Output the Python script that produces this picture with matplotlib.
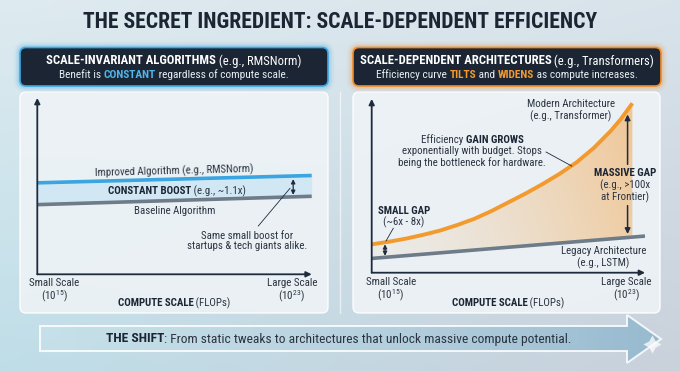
import numpy as np
import matplotlib.pyplot as plt
import matplotlib.font_manager as fm
from matplotlib.patches import FancyBboxPatch, Polygon

# values (x = log10 of FLOPs, y = efficiency, arbitrary units)
scale_x = [15, 23]
baseline_y = [3.99, 4.47]
improved_y = [5.24, 5.66]
legacy_x = [15, 23]
legacy_y = [0.83, 2.13]
modern_x = [15, 15.5, 16, 16.5, 17, 17.5, 18, 18.5, 19, 19.5, 20, 20.5, 21, 21.5, 22, 22.3, 22.63]
modern_y = [1.65, 1.8, 1.98, 2.2, 2.45, 2.77, 3.13, 3.58, 4.09, 4.6, 5.15, 5.75, 6.42, 7.25, 8.25, 8.95, 9.85]
tick_pos_left = [15.5, 22.42]
tick_pos_right = [15.56, 22.46]
tick_labels = ['Small Scale\n$\\mathregular{(10^{15})}$', 'Large Scale\n$\\mathregular{(10^{23})}$']

# pick a narrow face if there is one
names = set(f.name for f in fm.fontManager.ttflist)
FONT = 'Roboto'
for cand in ['Roboto Condensed', 'Liberation Sans Narrow', 'Open Sans Condensed']:
    if cand in names:
        FONT = cand
        break
plt.rcParams['font.family'] = [FONT, 'DejaVu Sans']

NAVY = '#1b2533'
TXT = '#2b3440'
AXC = '#1d2b3c'
BLUE = '#3aa5e0'
GREY = '#6e7b88'
ORANGE = '#f39a2e'
LBL = 7.8

fig = plt.figure(figsize=(6.8, 3.71), dpi=100)
bg = fig.add_axes([0, 0, 1, 1])
fg = fig.add_axes([0, 0, 1, 1])
fg.set_zorder(10)
fg.patch.set_visible(False)
fg.set_xlim(0, 680)
fg.set_ylim(371, 0)
fg.axis('off')

# background gradient
yy, xx = np.mgrid[0:1:60j, 0:1:100j]
tl = np.array([0.87, 0.92, 0.94])
tr = np.array([0.85, 0.89, 0.92])
bl = np.array([0.75, 0.87, 0.91])
br = np.array([0.79, 0.82, 0.86])
img = (tl * ((1 - xx) * (1 - yy))[..., None] + tr * (xx * (1 - yy))[..., None]
       + bl * ((1 - xx) * yy)[..., None] + br * (xx * yy)[..., None])
bg.imshow(img, extent=[0, 680, 371, 0], aspect='auto', zorder=0, interpolation='bicubic')
bg.set_xlim(0, 680)
bg.set_ylim(371, 0)
bg.axis('off')

renderer = fig.canvas.get_renderer()


def rich(x, y, parts, size):
    objs = []
    for s, w, c in parts:
        objs.append(fg.text(0, y, s, fontsize=size, fontweight=w, color=c,
                            ha='left', va='center'))
    widths = [t.get_window_extent(renderer).width for t in objs]
    start = x - sum(widths) / 2
    for t, w in zip(objs, widths):
        t.set_x(start)
        start += w


def label(x, y, s, **kw):
    kw.setdefault('fontsize', LBL)
    kw.setdefault('color', TXT)
    fg.text(x, y, s, ha='center', va='center', linespacing=1.1, **kw)


def box(x0, y0, x1, y1, **kw):
    p = FancyBboxPatch((x0, y0), x1 - x0, y1 - y0,
                       boxstyle='round,pad=0,rounding_size=6', **kw)
    bg.add_patch(p)
    return p


# title
fg.text(340, 21.5, 'THE SECRET INGREDIENT: SCALE-DEPENDENT EFFICIENCY', fontsize=15.6,
        fontweight='bold', color=NAVY, ha='center', va='center')

# header boxes with glow
for (x0, x1, glow) in [(20, 328, '#3aa7e3'), (353, 661, '#f08c28')]:
    for lw, a in [(9, 0.06), (6, 0.1), (3.5, 0.18)]:
        box(x0, 47.5, x1, 86, facecolor='none', edgecolor=glow, lw=lw, alpha=a, zorder=2)
    box(x0, 47.5, x1, 86, facecolor=NAVY, edgecolor=glow, lw=1.2, zorder=3)

rich(173.5, 61, [('SCALE-INVARIANT ALGORITHMS', 'bold', 'white'),
                 (' (e.g., RMSNorm)', 'normal', 'white')], 9.1)
rich(173.5, 74.5, [('Benefit is ', 'normal', '#e8eef3'), ('CONSTANT', 'bold', '#4fb6ec'),
                   (' regardless of compute scale.', 'normal', '#e8eef3')], 8.2)
rich(507, 61, [('SCALE-DEPENDENT ARCHITECTURES', 'bold', 'white'),
               (' (e.g., Transformers)', 'normal', 'white')], 9.1)
rich(507, 74.5, [('Efficiency curve ', 'normal', '#e8eef3'), ('TILTS', 'bold', ORANGE),
                 (' and ', 'normal', '#e8eef3'), ('WIDENS', 'bold', ORANGE),
                 (' as compute increases.', 'normal', '#e8eef3')], 8.2)

# chart panels
box(20, 92, 328, 313, facecolor='#eef3f6', edgecolor='white', lw=1, alpha=0.9, zorder=1)
box(353, 92, 660, 313, facecolor='#eef3f6', edgecolor='white', lw=1, alpha=0.9, zorder=1)
bg.plot([340, 340], [92, 313], color='white', lw=1, alpha=0.6, zorder=1)


def px_axes(x0, x1, y_top, y_bot):
    return fig.add_axes([x0 / 680, 1 - y_bot / 371, (x1 - x0) / 680, (y_bot - y_top) / 371])


def style(ax, ticks):
    ax.patch.set_alpha(0)
    for s in ax.spines.values():
        s.set_visible(False)
    ax.set_xlim(15, 23)
    ax.set_ylim(0, 10.1)
    ax.set_yticks([])
    ax.set_xticks(ticks, tick_labels)
    ax.tick_params(axis='x', length=0, pad=3, labelsize=7.9, labelcolor=TXT)
    for lab in ax.get_xticklabels():
        lab.set_linespacing(1.0)
    arr = dict(arrowstyle='-|>', color=AXC, lw=1.3, mutation_scale=8, shrinkA=0, shrinkB=0)
    ax.annotate('', xy=(1, 0), xytext=(0, 0), xycoords='axes fraction', arrowprops=arr, zorder=5)
    ax.annotate('', xy=(0, 1), xytext=(0, 0), xycoords='axes fraction', arrowprops=arr, zorder=5)


# left chart
axL = px_axes(37.3, 311.7, 98, 274.3)
axL.fill_between(scale_x, baseline_y, improved_y, color='#cfe7f5', alpha=0.9, lw=0, zorder=1)
axL.plot(scale_x, improved_y, color=BLUE, lw=2.6, solid_capstyle='butt', zorder=3)
axL.plot(scale_x, baseline_y, color=GREY, lw=2.6, solid_capstyle='butt', zorder=3)
axL.annotate('', xy=(22.46, 5.45), xytext=(22.46, 4.55),
             arrowprops=dict(arrowstyle='<|-|>', color=AXC, lw=0.9, mutation_scale=6,
                             shrinkA=0, shrinkB=0))
style(axL, tick_pos_left)

# right chart
axR = px_axes(371.7, 645, 99, 272.7)
leg_end = np.interp(modern_x[-1], legacy_x, legacy_y)
verts = list(zip(modern_x, modern_y)) + [(modern_x[-1], leg_end), (legacy_x[0], legacy_y[0])]
poly = Polygon(verts, closed=True, facecolor='none', edgecolor='none', transform=axR.transData)
axR.add_patch(poly)
gy, gx = np.mgrid[0:1:50j, 0:1:100j]
shade = np.zeros((50, 100, 4))
shade[..., 0] = 0.96
shade[..., 1] = 0.66
shade[..., 2] = 0.32
shade[..., 3] = 0.06 + 0.42 * gx ** 1.5 + 0.12 * (1 - gy)
fill_im = axR.imshow(shade, extent=[15, 23, 0, 10.1], aspect='auto', zorder=1,
                     interpolation='bilinear')
fill_im.set_clip_path(poly)
axR.plot(legacy_x, legacy_y, color=GREY, lw=2.6, solid_capstyle='butt', zorder=3)
axR.plot(modern_x, modern_y, color=ORANGE, lw=2.8, solid_capstyle='butt',
         solid_joinstyle='round', zorder=4)
small_arr = dict(arrowstyle='<|-|>', color=AXC, lw=0.9, mutation_scale=6, shrinkA=0, shrinkB=0)
axR.annotate('', xy=(15.39, 1.65), xytext=(15.39, 0.98), arrowprops=small_arr)
big = dict(arrowstyle='-|>', color=AXC, lw=1.1, mutation_scale=8, shrinkA=0, shrinkB=0)
axR.annotate('', xy=(22.49, 9.2), xytext=(22.49, 6.3), arrowprops=big)
axR.annotate('', xy=(22.49, 2.25), xytext=(22.49, 3.9), arrowprops=big)
style(axR, tick_pos_right)

# chart labels
fg.text(174.5, 171.5, 'Improved Algorithm (e.g., RMSNorm)', fontsize=LBL, color=TXT,
        ha='center', va='center', rotation=1.5)
rich(177, 191, [('CONSTANT BOOST', 'bold', NAVY), (' (e.g., ~1.1x)', 'normal', TXT)], LBL)
label(175, 211, 'Baseline Algorithm')
fg.plot([290, 258.3], [188.3, 226], color=AXC, lw=0.6)
label(246.7, 241, 'Same small boost for\nstartups & tech giants alike.')
rich(174, 303.3, [('COMPUTE SCALE', 'bold', NAVY), (' (FLOPs)', 'normal', TXT)], LBL)
rich(508, 303.3, [('COMPUTE SCALE', 'bold', NAVY), (' (FLOPs)', 'normal', TXT)], LBL)

label(571, 110.5, 'Modern Architecture\n(e.g., Transformer)')
rich(472, 140, [('Efficiency ', 'normal', TXT), ('GAIN GROWS', 'bold', NAVY)], LBL)
label(472, 157, 'exponentially with budget. Stops\nbeing the bottleneck for hardware.')
fg.plot([546, 571.7], [152, 166], color=AXC, lw=0.6)
label(625, 172.7, 'MASSIVE GAP', fontweight='bold', color=NAVY)
label(625, 191, '(e.g., >100x\nat Frontier)')
label(404.5, 210.7, 'SMALL GAP', fontweight='bold', color=NAVY)
label(404, 222.3, '(~6x - 8x)')
fg.plot([386, 393.3], [241, 228.3], color=AXC, lw=0.6)
label(603.3, 257.5, 'Legacy Architecture\n(e.g., LSTM)')

# bottom arrow
arrow_pts = [(40, 326), (627, 326), (627, 315), (661, 339), (627, 363), (627, 351), (40, 351)]
arrow = Polygon(arrow_pts, closed=True, facecolor='none', edgecolor='white', lw=1.4,
                alpha=0.85, zorder=3)
bg.add_patch(arrow)
ay, ax_ = np.mgrid[0:1:20j, 0:1:100j]
band = np.zeros((20, 100, 4))
band[..., 0] = 0.80 - 0.23 * ax_
band[..., 1] = 0.90 - 0.18 * ax_
band[..., 2] = 0.93 - 0.12 * ax_
band[..., 3] = 0.35 + 0.55 * ax_
band_im = bg.imshow(band, extent=[40, 661, 363, 315], aspect='auto', zorder=2,
                    interpolation='bilinear')
band_im.set_clip_path(arrow)
bg.set_xlim(0, 680)
bg.set_ylim(371, 0)
rich(339, 339, [('THE SHIFT', 'bold', NAVY),
                (': From static tweaks to architectures that unlock massive compute potential.',
                 'normal', TXT)], 9.7)

# little sparkle at the arrow tip
fg.plot([652], [344], marker=(4, 1, 0), markersize=13, color='white', alpha=0.75, mew=0)

fig.savefig('out.png', dpi=100)
